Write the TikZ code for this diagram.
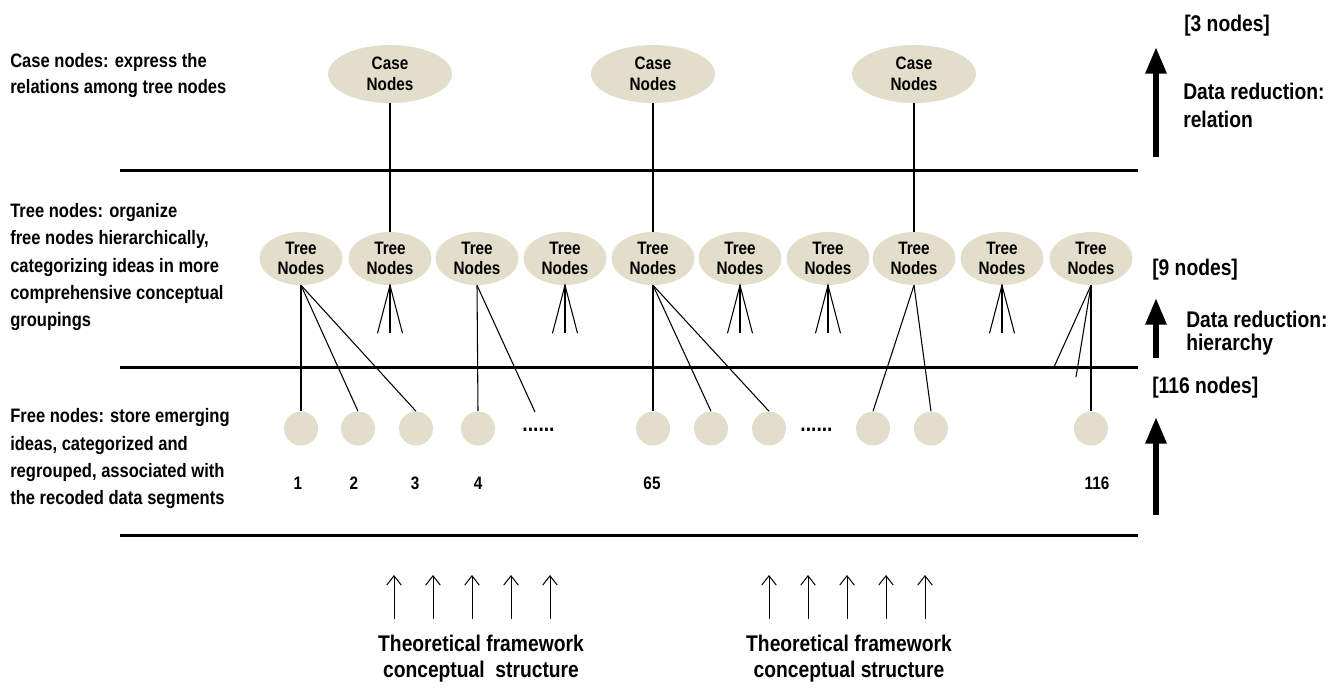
\documentclass[tikz,border=0pt]{standalone}
\usepackage{fontspec}
\setmainfont{Liberation Sans}[FakeStretch=0.85]
\usetikzlibrary{arrows.meta,shapes.geometric}
\definecolor{beige}{RGB}{226,222,203}
\newcommand\smallfnt{\fontsize{13.5pt}{15.5pt}\selectfont\bfseries}
\newcommand\labelfnt{\fontsize{14.6pt}{17pt}\selectfont\bfseries}
\newcommand\largefnt{\fontsize{17pt}{20pt}\selectfont\bfseries}
\begin{document}
\begin{tikzpicture}[x=0.75pt,y=-0.75pt,
  casebox/.style={ellipse, fill=beige, minimum width=93pt, minimum height=43.5pt, inner sep=0pt, align=center, font=\smallfnt},
  treebox/.style={ellipse, fill=beige, minimum width=62.25pt, minimum height=39.75pt, inner sep=0pt, align=center, font=\smallfnt},
  freebox/.style={circle, fill=beige, minimum size=25.5pt, inner sep=0pt},
  lbl/.style={anchor=base west, inner sep=0pt, font=\labelfnt},
  biglbl/.style={anchor=base west, inner sep=0pt, font=\largefnt},
  numlbl/.style={anchor=base, inner sep=0pt, font=\smallfnt},
  dotlbl/.style={anchor=base, inner sep=0pt, font=\largefnt},
  level/.style={line width=2.25pt},
  link/.style={line width=0.8pt},
  bigarrow/.style={line width=4.5pt, -{Triangle[width=15pt,length=20pt]}},
  thinarrow/.style={line width=0.75pt, -{Straight Barb[length=7pt,width=11pt]}}
]
\useasboundingbox (0,0) rectangle (1335,694);

% level lines
\coordinate (h1a) at (120,170); \coordinate (h1b) at (1138,170);
\coordinate (h2a) at (120,367); \coordinate (h2b) at (1138,367);
\coordinate (h3a) at (120,535); \coordinate (h3b) at (1138,535);
\draw[level] (h1a) -- (h1b);
\draw[level] (h2a) -- (h2b);
\draw[level] (h3a) -- (h3b);

% left labels
\node[lbl] (lc1) at (10,67) {Case nodes: express the};
\node[lbl] (lc2) at (10,93) {relations among tree nodes};
\node[lbl] (lt1) at (10,217) {Tree nodes: organize};
\node[lbl] (lt2) at (10,244) {free nodes hierarchically,};
\node[lbl] (lt3) at (10,272) {categorizing ideas in more};
\node[lbl] (lt4) at (10,299) {comprehensive conceptual};
\node[lbl] (lt5) at (10,326) {groupings};
\node[lbl] (lf1) at (10,422) {Free nodes: store emerging};
\node[lbl] (lf2) at (10,450) {ideas, categorized and};
\node[lbl] (lf3) at (10,477) {regrouped, associated with};
\node[lbl] (lf4) at (10,504) {the recoded data segments};

% case nodes
\node[casebox] (c1) at (390,74) {Case\\Nodes};
\node[casebox] (c2) at (653,74) {Case\\Nodes};
\node[casebox] (c3) at (914,74) {Case\\Nodes};

% tree nodes
\foreach \i/\x in {1/301,2/390,3/477,4/565,5/653,6/740,7/828,8/914,9/1002,10/1091}
  \node[treebox] (t\i) at (\x,258.5) {Tree\\Nodes};

% free nodes
\foreach \n/\x in {f1/301,f2/358,f3/416,f4/478,f65/653,f66/711,f67/769,fa/873,fb/931,f116/1091}
  \node[freebox] (\n) at (\x,428.5) {};

% case -> tree
\draw[link] (c1.south) -- (t2.north);
\draw[link] (c2.south) -- (t5.north);
\draw[link] (c3.south) -- (t8.north);

% fan stubs
\foreach \i in {2,4,6,7,9}{
  \path (t\i.south) ++(-12.5,48) coordinate (s\i a);
  \path (t\i.south) ++(0,48) coordinate (s\i b);
  \path (t\i.south) ++(12.5,48) coordinate (s\i c);
  \draw[link] (s\i a) -- (t\i.south) -- (s\i c);
  \draw[link] (t\i.south) -- (s\i b);
}

% tree -> free
\coordinate (d1) at (535,412);
\coordinate (e1) at (1054,367);
\coordinate (e2) at (1076,377);
\draw[link] (t1.south) -- (f1.north);
\draw[link] (t1.south) -- (f2.north);
\draw[link] (t1.south) -- (f3.north);
\draw[link] (t3.south) -- (f4.north);
\draw[link] (t3.south) -- (d1);
\draw[link] (t5.south) -- (f65.north);
\draw[link] (t5.south) -- (f66.north);
\draw[link] (t5.south) -- (f67.north);
\draw[link] (t8.south) -- (fa.north);
\draw[link] (t8.south) -- (fb.north);
\draw[link] (t10.south) -- (e1);
\draw[link] (t10.south) -- (e2);
\draw[link] (t10.south) -- (f116.north);

% dots and numbers
\node[dotlbl] (dots1) at (538.5,431) {......};
\node[dotlbl] (dots2) at (816.5,431) {......};
\node[numlbl] (n1) at (298,489) {1};
\node[numlbl] (n2) at (354,489) {2};
\node[numlbl] (n3) at (415,489) {3};
\node[numlbl] (n4) at (478,489) {4};
\node[numlbl] (n65) at (652,489) {65};
\node[numlbl] (n116) at (1097,489) {116};

% right side
\node[biglbl] (r1) at (1184,31) {[3 nodes]};
\node[biglbl] (r2) at (1183,99) {Data reduction:};
\node[biglbl] (r3) at (1183,127) {relation};
\node[biglbl] (r4) at (1152,275) {[9 nodes]};
\node[biglbl] (r5) at (1186,327) {Data reduction:};
\node[biglbl] (r6) at (1186,350) {hierarchy};
\node[biglbl] (r7) at (1152,393) {[116 nodes]};
\coordinate (a1s) at (1156,157); \coordinate (a1e) at (1156,47);
\coordinate (a2s) at (1156,358); \coordinate (a2e) at (1156,298);
\coordinate (a3s) at (1156,515); \coordinate (a3e) at (1156,417);
\draw[bigarrow] (a1s) -- (a1e);
\draw[bigarrow] (a2s) -- (a2e);
\draw[bigarrow] (a3s) -- (a3e);

% bottom arrows
\foreach \k in {0,...,4}{
  \coordinate (ba\k) at ({394+39*\k},619);
  \coordinate (bt\k) at ({394+39*\k},575);
  \draw[thinarrow] (ba\k) -- (bt\k);
  \coordinate (ca\k) at ({769+39*\k},619);
  \coordinate (ct\k) at ({769+39*\k},575);
  \draw[thinarrow] (ca\k) -- (ct\k);
}
\node[anchor=base, inner sep=0pt, font=\largefnt] (tf1) at (481,651) {Theoretical framework};
\node[anchor=base, inner sep=0pt, font=\largefnt] (cs1) at (481,677) {conceptual~ structure};
\node[anchor=base, inner sep=0pt, font=\largefnt] (tf2) at (849,651) {Theoretical framework};
\node[anchor=base, inner sep=0pt, font=\largefnt] (cs2) at (849,677) {conceptual structure};
\end{tikzpicture}
\end{document}
